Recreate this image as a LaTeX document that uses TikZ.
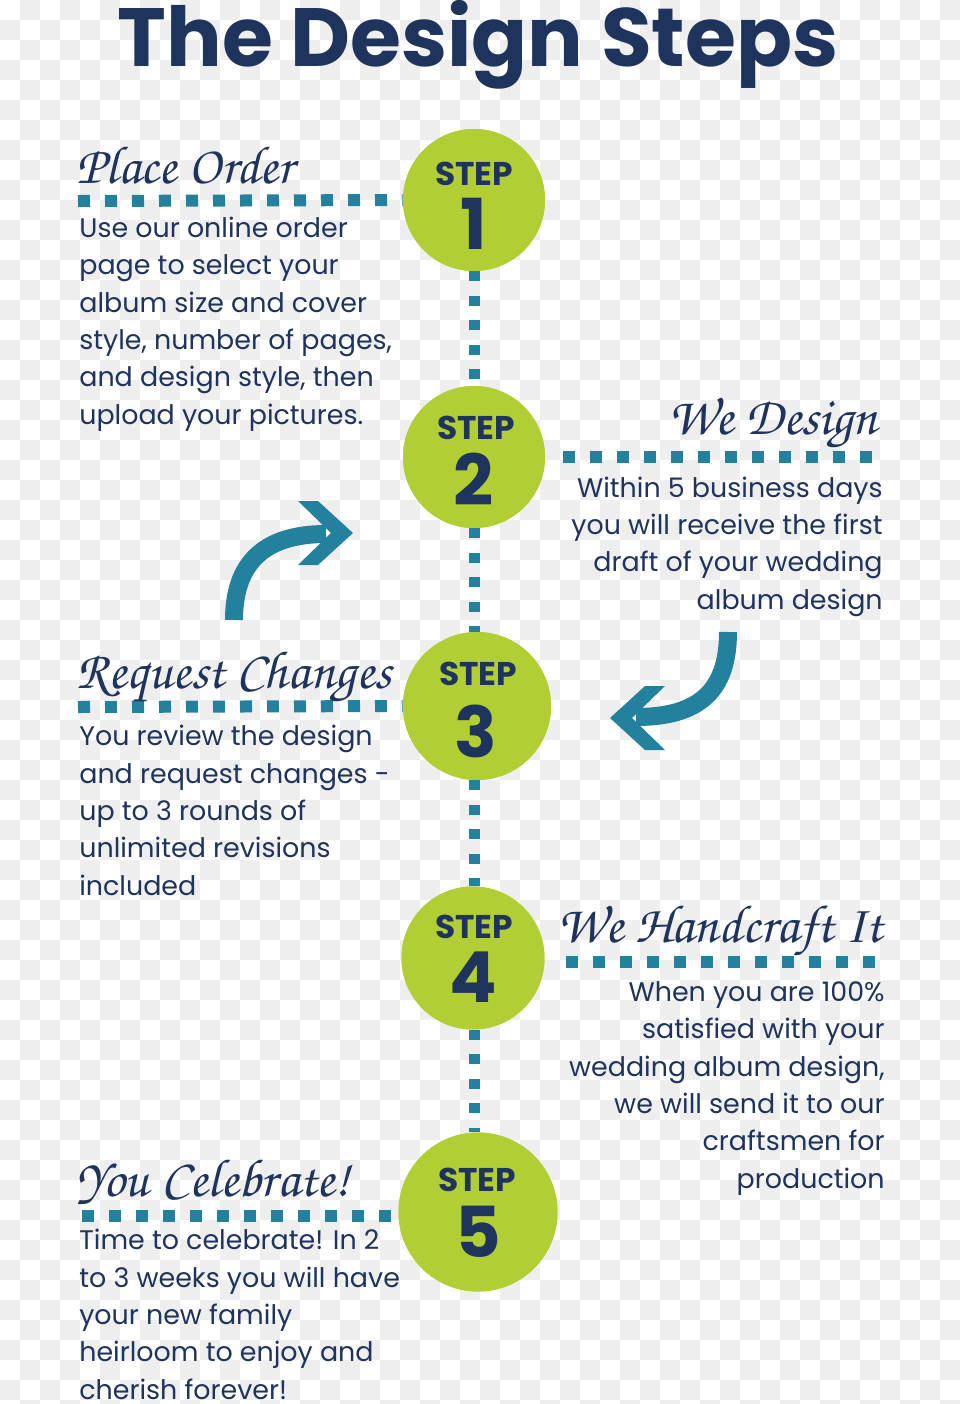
\documentclass[tikz,border=0pt]{standalone}
\usepackage{fontspec}
\setmainfont{Poppins}
\newfontfamily\handfont{TeX Gyre Chorus}
\usetikzlibrary{positioning}
\definecolor{navyink}{HTML}{1E345C}
\definecolor{stepgreen}{HTML}{B1CF35}
\definecolor{dotteal}{HTML}{23819E}
\definecolor{checkgray}{HTML}{EEEEEE}

\begin{document}
\begin{tikzpicture}[
    x=0.2mm, y=-0.2mm,
    every node/.style={text=navyink, inner sep=0pt},
    stepdisc/.style={circle, fill=stepgreen, minimum size=#1},
    steptag/.style={font=\fontsize{18.7}{20}\selectfont\bfseries, anchor=base},
    stepnum/.style={font=\fontsize{40}{42}\selectfont\bfseries, anchor=base},
    heading/.style={font=\handfont\fontsize{30.5}{32}\selectfont},
    blurb/.style={font=\fontsize{15.3}{21.2}\selectfont},
    vdots/.style={dotteal, line width=2.2mm, dash pattern=on 2mm off 2.9mm},
    hdots/.style={dotteal, line width=2.4mm, dash pattern=on 2.4mm off 3mm},
    curlyarrow/.style={dotteal, line width=3.6mm},
    chevron/.pic={\fill[dotteal] (0,0) -- (-35,-32) -- (-55,-32) -- (-22,0)
                  -- (-55,32) -- (-35,32) -- cycle;},
  ]
  \useasboundingbox (0,0) rectangle (960,1404);
  % checkered backdrop
  \fill[white] (0,0) rectangle (960,1404);
  \foreach \j in {0,...,70} {
    \pgfmathtruncatemacro\off{mod(\j+1,2)}
    \pgfmathtruncatemacro\offb{\off+2}
    \foreach \i in {\off,\offb,...,47}
      \fill[checkgray] (\i*20,\j*20) rectangle ++(20,20);
  }

  % title
  \node[font=\fontsize{47}{50}\selectfont\bfseries, anchor=base] (ttl) at (478,66) {The Design Steps};

  % step discs (placed first, redrawn over the dots below)
  \node[stepdisc=28.4mm] (s1) at (474,200) {};
  \node[stepdisc=28.4mm] (s2) at (474,457) {};
  \node[stepdisc=29.6mm] (s3) at (477,706) {};
  \node[stepdisc=28.6mm] (s4) at (473,958) {};
  \node[stepdisc=31.8mm] (s5) at (478,1212) {};

  % timeline
  \draw[vdots] (s1.south) -- (s2.north);
  \draw[vdots] (s2.south) -- (s2.south |- s3.north);
  \draw[vdots] (s2.south |- s3.south) -- (s2.south |- s4.north);
  \draw[vdots] (s2.south |- s4.south) -- (s2.south |- s5.north);

  % rulers under the headings
  \coordinate (h1) at (78,201);
  \coordinate (h2) at (872,457);
  \coordinate (h3) at (78,707);
  \coordinate (h4) at (875,962);
  \coordinate (h5) at (82,1216);
  \draw[hdots] (h1) -- (s1.west);
  \draw[hdots] (h2) -- ([xshift=2.2mm]s2.east);
  \draw[hdots] (h3) -- (s3.west);
  \draw[hdots] (h4) -- ([xshift=2.4mm]s4.east |- h4);
  \draw[hdots] (h5) -- (s5.west |- h5);

  \fill[stepgreen] (s1) circle[radius=71];
  \fill[stepgreen] (s2) circle[radius=71];
  \fill[stepgreen] (s3) circle[radius=74];
  \fill[stepgreen] (s4) circle[radius=71.5];
  \fill[stepgreen] (s5) circle[radius=79.5];

  \node[steptag] (st1) at (474,185) {STEP};
  \node[stepnum] (n1) at (474,249) {1};
  \node[steptag] (st2) at (476,439) {STEP};
  \node[stepnum] (n2) at (474,505) {2};
  \node[steptag] (st3) at (478,685) {STEP};
  \node[stepnum] (n3) at (476,757) {3};
  \node[steptag] (st4) at (474,938) {STEP};
  \node[stepnum] (n4) at (473,1002) {4};
  \node[steptag] (st5) at (477,1191) {STEP};
  \node[stepnum] (n5) at (478,1257) {5};

  % headings
  \node[heading, anchor=base west] (hd1) at (76,183) {Place Order};
  \node[heading, anchor=base east] (hd2) at (878,434) {We Design};
  \node[heading, anchor=base west] (hd3) at (76,688) {Request Changes};
  \node[heading, anchor=base east] (hd4) at (883,942) {We Handcraft It};
  \node[heading, anchor=base west] (hd5) at (76,1196) {You Celebrate!};

  % step texts (base = last line)
  \node[blurb, align=left, anchor=base west] (tx1) at (79,424)
    {Use our online order\\page to select your\\album size and cover\\style, number of pages,\\and design style, then\\upload your pictures.};
  \node[blurb, align=right, anchor=base east] (tx2) at (883,609)
    {Within 5 business days\\you will receive the first\\draft of your wedding\\album design};
  \node[blurb, align=left, anchor=base west] (tx3) at (79,895)
    {You review the design\\and request changes -\\up to 3 rounds of\\unlimited revisions\\included};
  \node[blurb, align=right, anchor=base east] (tx4) at (885,1188)
    {When you are 100\%\\satisfied with your\\wedding album design,\\we will send it to our\\craftsmen for\\production};
  \node[blurb, align=left, anchor=base west] (tx5) at (79,1399)
    {Time to celebrate! In 2\\to 3 weeks you will have\\your new family\\heirloom to enjoy and\\cherish forever!};

  % curved arrows
  \coordinate (a1) at (234,620);
  \coordinate (a2) at (326,534);
  \coordinate (a3) at (353,533);
  \draw[curlyarrow] (a1) .. controls (234,565) and (262,534) .. (a2);
  \pic at (a3) {chevron};
  \coordinate (b1) at (728,632);
  \coordinate (b2) at (636,717);
  \coordinate (b3) at (610,718);
  \draw[curlyarrow] (b1) .. controls (728,690) and (700,717) .. (b2);
  \pic[rotate=180] at (b3) {chevron};
\end{tikzpicture}
\end{document}
